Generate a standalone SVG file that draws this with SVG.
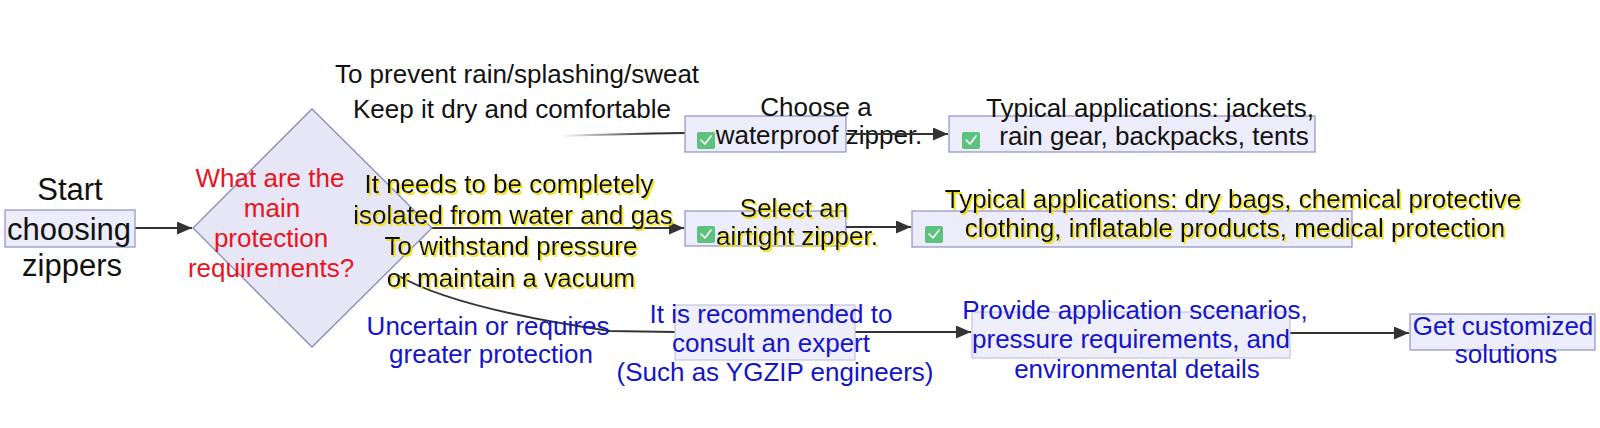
<svg xmlns="http://www.w3.org/2000/svg" width="1600" height="428" viewBox="0 0 1600 428">
  <defs>
    <style>
      text { font-family: "Liberation Sans", Arial, sans-serif; font-size: 26px; text-anchor: middle; }
      .blk { fill: #111111; }
      .red { fill: #e8141e; }
      .blu { fill: #1414c8; }
      .yel { fill: #111111; filter: url(#ysh); }
      .big { font-size: 31px; }
      .box { fill: #ececfa; stroke: #9898cc; stroke-width: 1.3; }
      .boxl { fill: #efeffb; stroke: #c4c4e0; stroke-width: 1.2; }
      .edge { fill: none; stroke: #333333; stroke-width: 2; }
      .chk { fill: #5ec27f; }
      .tick { fill: none; stroke: #ffffff; stroke-width: 1.6; stroke-linecap: round; stroke-linejoin: round; }
    </style>
    <filter id="ysh" x="-5%" y="-20%" width="110%" height="150%">
      <feDropShadow dx="1.6" dy="2" stdDeviation="0.7" flood-color="#f2e200" flood-opacity="1"/>
    </filter>
    <marker id="ah" viewBox="0 0 15 13" refX="15" refY="6.5" markerWidth="15" markerHeight="13" markerUnits="userSpaceOnUse" orient="auto">
      <path d="M0,0 L15,6.5 L0,13 z" fill="#333333"/>
    </marker>
    <linearGradient id="fade" gradientUnits="userSpaceOnUse" x1="560" y1="0" x2="650" y2="0">
      <stop offset="0" stop-color="#333333" stop-opacity="0"/>
      <stop offset="1" stop-color="#333333" stop-opacity="1"/>
    </linearGradient>
  </defs>
  <rect width="1600" height="428" fill="#ffffff"/>

  <g id="connectors">
    <path class="edge" d="M135,228 L192,228" marker-end="url(#ah)"/>
    <path d="M560,136 Q620,134 685,133" fill="none" stroke="url(#fade)" stroke-width="2.2"/>
    <path class="edge" d="M432,228 L684,228" marker-end="url(#ah)"/>
    <path class="edge" d="M397,275 C440,300 520,318 610,331 L675,332"/>
    <path class="edge" d="M855,332 L971,332" marker-end="url(#ah)"/>
    <path class="edge" d="M1290,333 L1409,333" marker-end="url(#ah)"/>
  </g>

  <g id="start">
    <rect class="box" x="5" y="210" width="130" height="37"/>
    <text class="blk big" x="70" y="200">Start</text>
    <text class="blk big" x="69" y="240">choosing</text>
    <text class="blk big" x="72" y="276">zippers</text>
  </g>

  <g id="decision">
    <polygon points="312,109 432,228 312,347 193,228" fill="#e6e6f6" stroke="#8a8ab8" stroke-width="1.3"/>
    <text class="red" x="270" y="187">What are the</text>
    <text class="red" x="272" y="217">main</text>
    <text class="red" x="271" y="247">protection</text>
    <text class="red" x="271" y="277">requirements?</text>
  </g>

  <g id="edge-labels">
    <text class="blk" x="517" y="83">To prevent rain/splashing/sweat</text>
    <text class="blk" x="512" y="118">Keep it dry and comfortable</text>
    <text class="yel" x="509" y="193">It needs to be completely</text>
    <text class="yel" x="513" y="224">isolated from water and gas</text>
    <text class="yel" x="511" y="255">To withstand pressure</text>
    <text class="yel" x="511" y="287">or maintain a vacuum</text>
    <text class="blu" x="488" y="335">Uncertain or requires</text>
    <text class="blu" x="491" y="363">greater protection</text>
  </g>

  <g id="waterproof">
    <rect class="box" x="685" y="116" width="161" height="36"/>
    <rect class="chk" x="697" y="132" width="18" height="17" rx="2"/>
    <path class="tick" d="M701,140 L705,144 L711,136"/>
    <text class="blk" x="816" y="116">Choose a</text>
    <text class="blk" x="819" y="144">waterproof zipper.</text>
  </g>

  <g id="jackets">
    <rect class="box" x="949" y="116" width="366" height="36"/>
    <rect class="chk" x="962" y="132" width="18" height="17" rx="2"/>
    <path class="tick" d="M966,140 L970,144 L976,136"/>
    <text class="blk" x="1150" y="117">Typical applications: jackets,</text>
    <text class="blk" x="1154" y="145">rain gear, backpacks, tents</text>
  </g>

  <g id="connector-waterproof-jackets">
    <path class="edge" d="M846,134 L948,134" marker-end="url(#ah)"/>
  </g>

  <g id="airtight">
    <rect class="box" x="685" y="211" width="161" height="35"/>
    <rect class="chk" x="697" y="226" width="18" height="17" rx="2"/>
    <path class="tick" d="M701,234 L705,238 L711,230"/>
    <text class="yel" x="794" y="217">Select an</text>
    <text class="yel" x="797" y="245">airtight zipper.</text>
  </g>

  <g id="connector-airtight-drybags">
    <path class="edge" d="M846,227 L911,227" marker-end="url(#ah)"/>
  </g>

  <g id="drybags">
    <rect class="box" x="912" y="211" width="440" height="36"/>
    <rect class="chk" x="925" y="226" width="18" height="17" rx="2"/>
    <path class="tick" d="M929,234 L933,238 L939,230"/>
    <text class="yel" x="1233" y="208">Typical applications: dry bags, chemical protective</text>
    <text class="yel" x="1235" y="237">clothing, inflatable products, medical protection</text>
  </g>

  <g id="expert">
    <rect class="boxl" x="675" y="305" width="180" height="55"/>
    <text class="blu" x="771" y="323">It is recommended to</text>
    <text class="blu" x="771" y="352">consult an expert</text>
    <text class="blu" x="775" y="381">(Such as YGZIP engineers)</text>
  </g>

  <g id="details">
    <rect class="boxl" x="972" y="312" width="318" height="46"/>
    <text class="blu" x="1135" y="319">Provide application scenarios,</text>
    <text class="blu" x="1131" y="348">pressure requirements, and</text>
    <text class="blu" x="1137" y="378">environmental details</text>
  </g>

  <g id="solutions">
    <rect class="box" x="1410" y="314" width="185" height="36"/>
    <text class="blu" x="1503" y="335">Get customized</text>
    <text class="blu" x="1506" y="363">solutions</text>
  </g>
</svg>
